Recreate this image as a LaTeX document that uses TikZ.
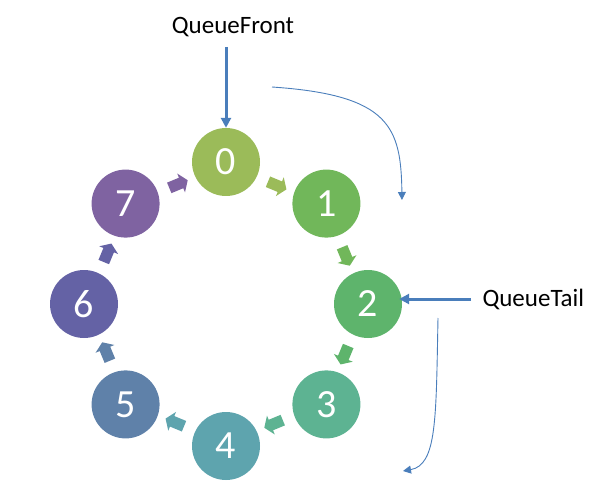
\documentclass[tikz,border=0pt]{standalone}
\usepackage{xcolor}
\usepackage{fontspec}
\setmainfont{Carlito}
\usetikzlibrary{arrows.meta,shapes.arrows}

\definecolor{c0}{HTML}{9BBB59}
\definecolor{c1}{HTML}{71B75A}
\definecolor{c2}{HTML}{5EB46C}
\definecolor{c3}{HTML}{5DB392}
\definecolor{c4}{HTML}{5EA4AE}
\definecolor{c5}{HTML}{5F81A9}
\definecolor{c6}{HTML}{6462A5}
\definecolor{c7}{HTML}{7F63A1}
\definecolor{qblue}{HTML}{4A7EBB}

\begin{document}
\begin{tikzpicture}[x=1pt,y=1pt,
    ball/.style={shape=circle,minimum size=68pt,inner sep=0pt,text=white,font=\fontsize{40}{44}\selectfont},
    hop/.style={single arrow,minimum height=20pt,inner sep=5.5pt,single arrow head extend=4.5pt,single arrow tip angle=110,single arrow head indent=0pt},
    tag/.style={font=\fontsize{25}{30}\selectfont},
    pointer/.style={draw=qblue,line width=3pt,-{Triangle[length=10pt,width=10pt]}},
    flow/.style={draw=qblue,line width=0.9pt,-{Triangle[length=8pt,width=8pt]}}]
\useasboundingbox (0,0) rectangle (603,499);

\begin{scope}[shift={(226,195)}]
                    \node[ball,fill=c0] (N0) at (90:142) {0};
                    \node[ball,fill=c1] (N1) at (45:142) {1};
                    \node[ball,fill=c2] (N2) at (0:142) {2};
                    \node[ball,fill=c3] (N3) at (-45:142) {3};
                    \node[ball,fill=c4] (N4) at (-90:142) {4};
                    \node[ball,fill=c5] (N5) at (-135:142) {5};
                    \node[ball,fill=c6] (N6) at (180:142) {6};
                    \node[ball,fill=c7] (N7) at (135:142) {7};

                    \node[hop,fill=c0,rotate=-22.5] (H01) at (67.5:129) {};
                    \node[hop,fill=c1,rotate=-67.5] (H12) at (22.5:129) {};
                    \node[hop,fill=c2,rotate=-112.5] (H23) at (-22.5:129) {};
                    \node[hop,fill=c3,rotate=-157.5] (H34) at (-67.5:129) {};
                    \node[hop,fill=c4,rotate=157.5] (H45) at (-112.5:129) {};
                    \node[hop,fill=c5,rotate=112.5] (H56) at (-157.5:129) {};
                    \node[hop,fill=c6,rotate=67.5] (H67) at (157.5:129) {};
                    \node[hop,fill=c7,rotate=22.5] (H70) at (112.5:129) {};
\end{scope}

                    \node[tag] (F) at (233,472) {QueueFront};
                    \node[tag,anchor=west] (T) at (479,200) {QueueTail};

                    \coordinate (S1) at (272,412);
                    \coordinate (E1) at (402,299);
                    \coordinate (S2) at (438,181);
                    \coordinate (E2) at (403,28);

                    \draw[pointer] (N0.north |- 0,452) -- (N0.north);
                    \draw[pointer,shorten <=8pt,shorten >=-3pt] (T.west) -- (T.west -| N2.east);
                    \draw[flow] (S1) .. controls (390,404) and (401,372) .. (E1);
                    \draw[flow] (S2) .. controls (436,80) and (437,34) .. (E2);
                \end{tikzpicture}
\end{document}
